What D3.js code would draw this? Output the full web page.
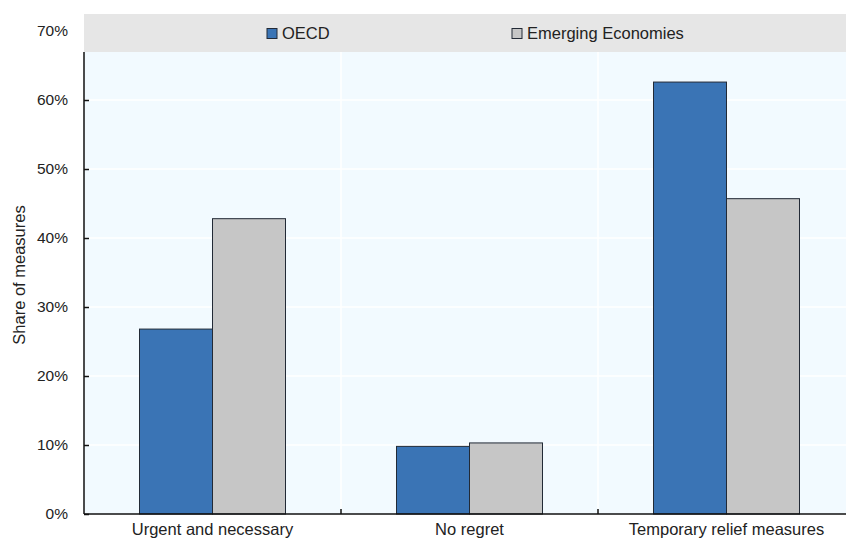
<!DOCTYPE html>
<html>
<head>
<meta charset="utf-8">
<script src="https://cdn.jsdelivr.net/npm/d3@7"></script>
<style>
	body { margin: 0; background: #fff; }
	text { font-family: "Liberation Sans", Arial, sans-serif; fill: #222; }
</style>
</head>
<body>
<script>
// data
var categories = ["Urgent and necessary", "No regret", "Temporary relief measures"];
var seriesNames = ["OECD", "Emerging Economies"];
var oecd = [0.268, 0.098, 0.626];
var emerging = [0.428, 0.103, 0.457];
var yTicks = [0, 0.1, 0.2, 0.3, 0.4, 0.5, 0.6, 0.7];

var w = 846;
var h = 539;
var plotLeft = 84, plotRight = 855, plotTop = 31, plotBottom = 514;
var bandTop = 14, bandBottom = 52;
var colors = ["#3a74b5", "#c6c6c6"];

var svg = d3.select("body")
	.append("svg")
	.attr("width", w)
	.attr("height", h);

var xScale = d3.scaleBand()
	.domain(categories)
	.range([plotLeft, plotRight]);

var yScale = d3.scaleLinear()
	.domain([0, 0.7])
	.range([plotBottom, plotTop]);

var barW = 73;

// plot background
svg.append("rect")
	.attr("x", plotLeft)
	.attr("y", bandBottom)
	.attr("width", w - plotLeft)
	.attr("height", plotBottom - bandBottom)
	.attr("fill", "#f2faff");

// white grid lines
svg.selectAll("line.hgrid")
	.data(yTicks.slice(1, -1))
	.enter()
	.append("line")
	.attr("class", "hgrid")
	.attr("x1", plotLeft)
	.attr("x2", w)
	.attr("y1", d => yScale(d))
	.attr("y2", d => yScale(d))
	.attr("stroke", "#fff")
	.attr("stroke-width", 1.5);

svg.selectAll("line.vgrid")
	.data(categories.slice(1))
	.enter()
	.append("line")
	.attr("class", "vgrid")
	.attr("x1", d => xScale(d))
	.attr("x2", d => xScale(d))
	.attr("y1", bandBottom)
	.attr("y2", plotBottom)
	.attr("stroke", "#fff")
	.attr("stroke-width", 1.5);

// legend band
svg.append("rect")
	.attr("x", plotLeft)
	.attr("y", bandTop)
	.attr("width", w - plotLeft)
	.attr("height", bandBottom - bandTop)
	.attr("fill", "#e6e6e6");

// bars
var groups = [oecd, emerging];
groups.forEach((vals, i) => {
	svg.selectAll("rect.s" + i)
		.data(vals)
		.enter()
		.append("rect")
		.attr("class", "s" + i)
		.attr("x", (d, j) => xScale(categories[j]) + xScale.bandwidth() / 2 - barW + i * barW)
		.attr("y", d => yScale(d))
		.attr("width", barW)
		.attr("height", d => plotBottom - yScale(d))
		.attr("fill", colors[i])
		.attr("stroke", "#222a36")
		.attr("stroke-width", 1);
});

// y axis
var yAxis = d3.axisLeft(yScale)
	.tickValues(yTicks)
	.tickFormat(d3.format(".0%"))
	.tickSize(-5)
	.tickPadding(16);

var gy = svg.append("g")
	.attr("transform", "translate(" + plotLeft + ",0)")
	.call(yAxis);
gy.select(".domain").attr("stroke", "#111").attr("stroke-width", 1.5)
	.attr("d", "M0," + bandBottom + "V" + plotBottom);
gy.selectAll(".tick line").attr("stroke", "#111").attr("stroke-width", 1.5);
gy.selectAll(".tick text").attr("font-size", "15.5px").attr("fill", "#222")
	.style("font-family", "'Liberation Sans', Arial, sans-serif");
gy.selectAll(".tick").filter(d => d == 0.7).select("line").remove();

// x axis
var xAxis = d3.axisBottom(xScale).tickSize(0).tickPadding(9);
var gx = svg.append("g")
	.attr("transform", "translate(0," + plotBottom + ")")
	.call(xAxis);
gx.select(".domain").attr("stroke", "#111").attr("stroke-width", 1.5)
	.attr("d", "M" + plotLeft + ",0H" + w);
gx.selectAll(".tick text").attr("font-size", "16.5px").attr("fill", "#222")
	.style("font-family", "'Liberation Sans', Arial, sans-serif");

// separator ticks between categories
svg.selectAll("line.sep")
	.data(categories.slice(1))
	.enter()
	.append("line")
	.attr("class", "sep")
	.attr("x1", d => xScale(d))
	.attr("x2", d => xScale(d))
	.attr("y1", plotBottom - 5)
	.attr("y2", plotBottom)
	.attr("stroke", "#111")
	.attr("stroke-width", 1.5);

// y label
svg.append("text")
	.text("Share of measures")
	.attr("transform", "rotate(-90)")
	.attr("x", -275)
	.attr("y", 25)
	.attr("text-anchor", "middle")
	.attr("font-size", "16.5px");

// legend
var legendX = [267, 512];
seriesNames.forEach((name, i) => {
	svg.append("rect")
		.attr("x", legendX[i])
		.attr("y", 28.5)
		.attr("width", 10)
		.attr("height", 10)
		.attr("fill", colors[i])
		.attr("stroke", "#222a36")
		.attr("stroke-width", 1);
	svg.append("text")
		.text(name)
		.attr("x", legendX[i] + 15)
		.attr("y", 39)
		.attr("font-size", "16.5px");
});
</script>
</body>
</html>
